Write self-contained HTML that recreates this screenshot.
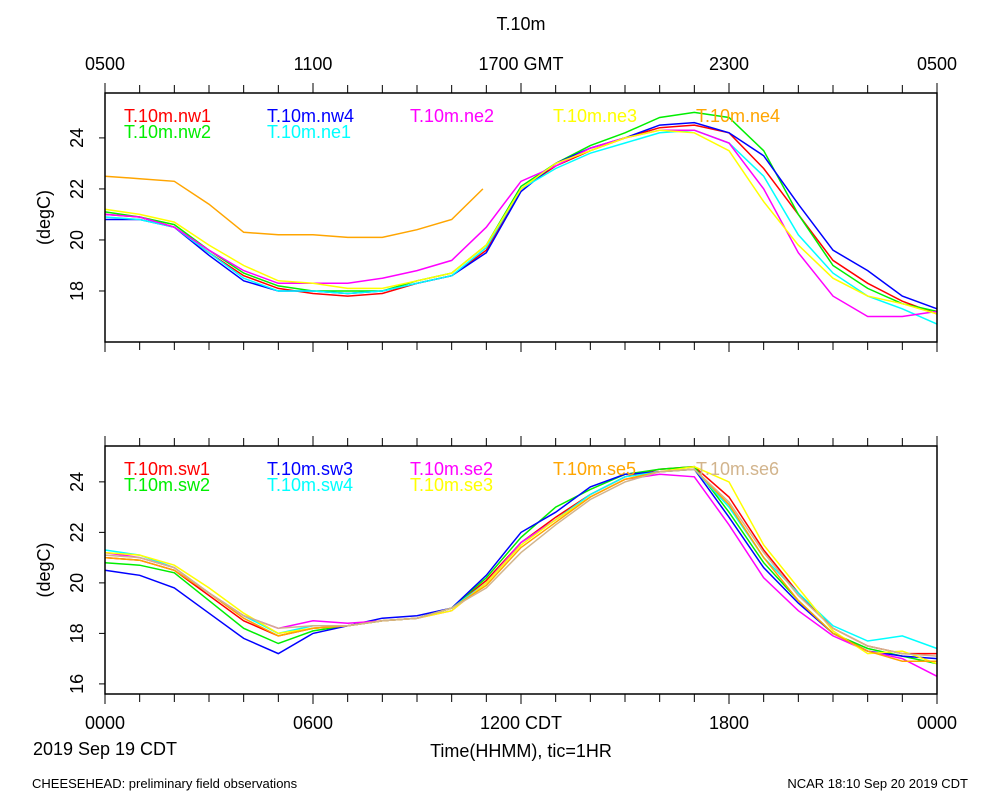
<!DOCTYPE html>
<html><head><meta charset="utf-8"><style>
body{margin:0;background:#fff;font-family:"Liberation Sans",sans-serif;}
svg text{font-family:"Liberation Sans",sans-serif;fill:#000;}
</style></head><body>
<svg id="chart" width="1000" height="800" xmlns="http://www.w3.org/2000/svg"></svg>
<script>
const hours=[0,1,2,3,4,5,6,7,8,9,10,11,12,13,14,15,16,17,18,19,20,21,22,23,24];
const ne4Hours=[0,1,2,3,4,5,6,7,8,9,10,10.9];
const topNames=["T.10m.nw1","T.10m.nw2","T.10m.nw4","T.10m.ne1","T.10m.ne2","T.10m.ne3","T.10m.ne4"];
const topColors=["#ff0000","#00ee00","#0000ff","#00ffff","#ff00ff","#ffff00","#ffa500"];
const nw1=[21.0,20.9,20.5,19.5,18.6,18.1,17.9,17.8,17.9,18.3,18.6,19.6,22.0,22.9,23.5,24.0,24.4,24.5,24.2,22.8,21.0,19.2,18.3,17.6,17.1];
const nw2=[21.1,20.9,20.6,19.6,18.7,18.2,18.0,18.0,18.0,18.4,18.7,19.8,22.1,23.0,23.7,24.2,24.8,25.0,24.8,23.5,21.0,19.0,18.1,17.5,17.2];
const nw4=[20.8,20.8,20.5,19.4,18.4,18.0,18.0,17.9,18.0,18.3,18.6,19.5,21.9,23.0,23.6,24.0,24.5,24.6,24.2,23.3,21.4,19.6,18.8,17.8,17.3];
const ne1=[20.9,20.8,20.5,19.5,18.5,18.0,18.0,17.9,18.0,18.3,18.6,19.7,22.0,22.8,23.4,23.8,24.2,24.3,23.8,22.5,20.2,18.7,17.8,17.3,16.7];
const ne2=[21.0,20.9,20.5,19.6,18.8,18.3,18.3,18.3,18.5,18.8,19.2,20.5,22.3,22.9,23.6,24.0,24.3,24.3,23.8,22.0,19.5,17.8,17.0,17.0,17.2];
const ne3=[21.2,21.0,20.7,19.8,19.0,18.4,18.3,18.1,18.1,18.4,18.7,19.8,22.0,23.0,23.5,24.0,24.3,24.2,23.5,21.5,19.8,18.5,17.8,17.5,17.1];
const ne4=[22.5,22.4,22.3,21.4,20.3,20.2,20.2,20.1,20.1,20.4,20.8,22.0];
const botNames=["T.10m.sw1","T.10m.sw2","T.10m.sw3","T.10m.sw4","T.10m.se2","T.10m.se3","T.10m.se5","T.10m.se6"];
const botColors=["#ff0000","#00ee00","#0000ff","#00ffff","#ff00ff","#ffff00","#ffa500","#d2b48c"];
const sw1=[21.0,20.9,20.5,19.5,18.5,17.9,18.2,18.3,18.5,18.6,19.0,20.1,21.6,22.6,23.5,24.2,24.5,24.6,23.4,21.3,19.6,18.2,17.5,17.2,17.2];
const sw2=[20.8,20.7,20.4,19.3,18.2,17.6,18.1,18.3,18.5,18.6,19.0,20.2,21.8,23.0,23.7,24.3,24.5,24.6,22.8,20.8,19.3,18.0,17.4,17.1,16.8];
const sw3=[20.5,20.3,19.8,18.8,17.8,17.2,18.0,18.3,18.6,18.7,19.0,20.3,22.0,22.8,23.8,24.3,24.4,24.5,22.6,20.6,19.2,18.0,17.3,17.1,17.0];
const sw4=[21.3,21.1,20.6,19.6,18.7,18.0,18.3,18.3,18.5,18.6,19.0,20.0,21.6,22.5,23.5,24.2,24.4,24.5,23.0,21.0,19.6,18.3,17.7,17.9,17.4];
const se2=[21.2,21.0,20.6,19.6,18.7,18.2,18.5,18.4,18.5,18.6,18.9,20.0,21.6,22.5,23.4,24.1,24.3,24.2,22.3,20.2,18.9,17.9,17.3,17.0,16.3];
const se3=[21.2,21.1,20.7,19.8,18.8,18.0,18.2,18.3,18.5,18.6,18.9,20.0,21.5,22.5,23.4,24.1,24.4,24.6,24.0,21.5,19.8,18.1,17.2,17.3,16.8];
const se5=[21.0,20.9,20.5,19.6,18.6,17.9,18.2,18.3,18.5,18.6,19.0,19.9,21.4,22.4,23.4,24.1,24.4,24.5,23.1,21.0,19.3,18.0,17.3,16.9,16.9];
const se6=[21.1,21.0,20.6,19.6,18.7,18.2,18.3,18.3,18.5,18.6,19.0,19.8,21.2,22.3,23.3,24.0,24.4,24.5,23.2,21.2,19.5,18.2,17.5,17.2,17.1];
const topYTicks=[18,20,22,24];
const botYTicks=[16,18,20,22,24];
const topXLabels=["0500","1100","1700 GMT","2300","0500"];
const botXLabels=["0000","0600","1200 CDT","1800","0000"];

const svg=document.getElementById('chart');
const NS="http://www.w3.org/2000/svg";
function mk(tag,attrs,parent){const e=document.createElementNS(NS,tag);for(const k in attrs)e.setAttribute(k,attrs[k]);(parent||svg).appendChild(e);return e;}
const X0=105,X1=937;
function xs(h){return X0+(X1-X0)*h/24;}
function makeY(top,bot,vTop,vBot){return v=>top+(vTop-v)/(vTop-vBot)*(bot-top);}
const yTop=makeY(93,342,25.76,16.0);
const yBot=makeY(446,694,25.42,15.6);

function panel(name,top,bot,ys,yt,seriesList,hoursList,colors,labels,slots){
  const g=mk('g',{});
  
  
  seriesList.forEach((s,i)=>{
    const hs=hoursList[i];
    const d=s.map((v,j)=>(j?'L':'M')+xs(hs[j]).toFixed(1)+' '+ys(v).toFixed(1)).join(' ');
    const p=mk('path',{d:d,fill:'none',stroke:colors[i],'stroke-width':1.5},g);
    
    
  });
  const fr=mk('rect',{x:X0,y:top,width:X1-X0,height:bot-top,fill:'none',stroke:'#000','stroke-width':1.5},g);
  
  
  for(let h=0;h<=24;h++){
    const L=(h%6===0)?10:8;
    mk('line',{x1:xs(h),x2:xs(h),y1:top,y2:top-L,stroke:'#000','stroke-width':1},g);
    mk('line',{x1:xs(h),x2:xs(h),y1:bot,y2:bot+L,stroke:'#000','stroke-width':1},g);
  }
  yt.forEach(v=>{
    mk('line',{x1:X0,x2:X0-6,y1:ys(v),y2:ys(v),stroke:'#000','stroke-width':1},g);
    const t=mk('text',{x:0,y:0,'font-size':18,'text-anchor':'middle',transform:`translate(${X0-22},${ys(v)}) rotate(-90)`},g);
    t.textContent=v;
    
    
  });
  const yl=mk('text',{x:0,y:0,'font-size':18,'text-anchor':'middle',transform:`translate(50,${(top+bot)/2}) rotate(-90)`},g);
  yl.textContent='(degC)';
  
  
  labels.forEach((lab,i)=>{
    const col=slots[i][0],row=slots[i][1];
    const t=mk('text',{x:124+col*143,y:top+29+row*16,'font-size':18,fill:colors[i]},g);
    t.style.fill=colors[i];
    t.textContent=lab;
    
    
  });
}
panel('top-panel',93,342,yTop,topYTicks,[nw1,nw2,nw4,ne1,ne2,ne3,ne4],[hours,hours,hours,hours,hours,hours,ne4Hours],topColors,topNames,
  [[0,0],[0,1],[1,0],[1,1],[2,0],[3,0],[4,0]]);
panel('bottom-panel',446,694,yBot,botYTicks,[sw1,sw2,sw3,sw4,se2,se3,se5,se6],[hours,hours,hours,hours,hours,hours,hours,hours],botColors,botNames,
  [[0,0],[0,1],[1,0],[1,1],[2,0],[2,1],[3,0],[4,0]]);

topXLabels.forEach((l,i)=>{
  const t=mk('text',{x:xs(i*6),y:70,'font-size':18,'text-anchor':'middle'});
  t.textContent=l;
  
  
});
botXLabels.forEach((l,i)=>{
  const t=mk('text',{x:xs(i*6),y:729,'font-size':18,'text-anchor':'middle'});
  t.textContent=l;
  
  
});
function txt(name,x,y,s,size,anchor){
  const t=mk('text',{x:x,y:y,'font-size':size,'text-anchor':anchor});
  t.textContent=s;
  
  
}
txt('chart-title',521,30,'T.10m',18,'middle');
txt('date-label',105,755,'2019 Sep 19 CDT',18,'middle');
txt('x-axis-title',521,757,'Time(HHMM), tic=1HR',18,'middle');
txt('footer-left',32,788,'CHEESEHEAD: preliminary field observations',13,'start');
txt('footer-right',968,788,'NCAR 18:10 Sep 20 2019 CDT',13,'end');
</script>
</body></html>
